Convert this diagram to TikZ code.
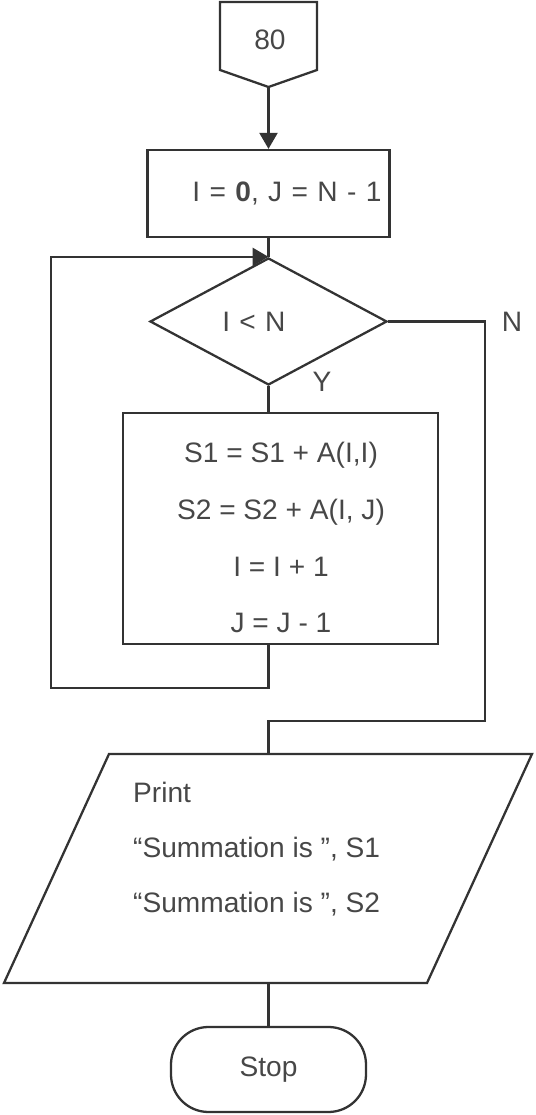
\documentclass[tikz,border=0pt]{standalone}
\usepackage{fontspec}
\setmainfont{Liberation Sans}
\usetikzlibrary{shapes.geometric,arrows.meta}

\definecolor{inkgray}{gray}{0.2}
\definecolor{txtgray}{gray}{0.28}

\tikzset{
  flowline/.style={line width=1.3pt, draw=inkgray},
  flowarrow/.style={flowline, -{Triangle[length=0.32cm,width=0.36cm]}},
  flowtext/.style={text=txtgray, font=\fontsize{16}{19}\selectfont},
  procbox/.style={flowtext, rectangle, draw=inkgray, line width=1.3pt, inner sep=0pt},
  decbox/.style={flowtext, diamond, draw=inkgray, line width=1.3pt, inner sep=0pt},
  termbox/.style={flowtext, rectangle, rounded corners=0.75cm, draw=inkgray, line width=1.3pt, inner sep=0pt},
}

\begin{document}
\begin{tikzpicture}
    \useasboundingbox (0,0) rectangle (10.70,22.30);

    % Off-page connector 80
    \coordinate (c80tip) at (5.37,20.56);
    \draw [flowline] (4.40,22.26) -- (6.34,22.26) -- (6.34,20.90) -- (c80tip) -- (4.40,20.90) -- cycle;
    \node [flowtext] (c80) at (5.40,21.50) {80};

    % Initial values
    \node [procbox, minimum width=4.84cm, minimum height=1.74cm, text width=4.52cm, align=right]
        (init) at (5.37,18.43) {I = \textbf{0}, J = N - 1};

    % Loop test
    \node [decbox, minimum width=4.74cm, minimum height=2.54cm, text width=1.85cm, align=left]
        (dec) at (5.37,15.87) {I < N};
    \node [flowtext] (ylab) at (6.44,14.66) {Y};
    \node [flowtext] (nlab) at (10.24,15.86) {N};

    % Loop body
    \node [procbox, minimum width=6.30cm, minimum height=4.62cm] (body) at (5.61,11.73) {};
    \node [flowtext, align=center, font=\fontsize{16}{32.4}\selectfont] (bodytext) at (5.62,11.55)
        {S1 = S1 + A(I,I)\\ S2 = S2 + A(I, J)\\ I = I + 1\\ J = J - 1};

    % Output parallelogram
    \coordinate (outtop) at (5.37,7.22);
    \coordinate (outbottom) at (5.37,2.64);
    \draw [flowline] (0.08,2.64) -- (8.54,2.64) -- (10.64,7.22) -- (2.18,7.22) -- cycle;
    \node [flowtext, anchor=west, align=left, font=\fontsize{16}{31.3}\selectfont] (outtext) at (2.54,5.31)
        {Print\\ “Summation is ”, S1\\ “Summation is ”, S2};

    % End
    \node [termbox, minimum width=3.90cm, minimum height=1.70cm] (stop) at (5.37,0.91) {Stop};

    % Drawing connectors
    \coordinate (loopleft) at (1.02,8.54);
    \coordinate (noturn) at (9.70,7.88);
    \draw [flowarrow] (c80tip) -- (init.north);
    \draw [flowline] (init.south) -- (dec.north);
    \draw [flowline] (dec.south) -- (dec.south |- body.north);
    \draw [flowarrow] (dec.south |- body.south) |- (loopleft) |- (dec.north);
    \draw [flowline] (dec.east) -| (noturn) -| (outtop);
    \draw [flowline] (outbottom) -- (stop.north);
\end{tikzpicture}
\end{document}
